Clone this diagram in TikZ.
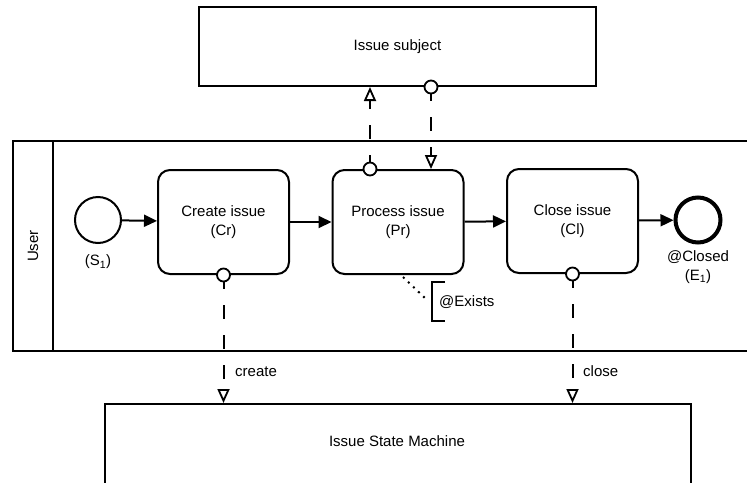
\documentclass[tikz,border=0pt]{standalone}
\usepackage{fontspec}
\setmainfont{Liberation Sans}
\usetikzlibrary{arrows.meta,calc}

\tikzset{
  lbl/.style={font=\fontsize{15}{19}\selectfont, align=center, inner sep=0pt},
  box/.style={draw, line width=2pt, minimum width=397pt, minimum height=79pt, lbl},
  task/.style={draw, line width=2pt, rounded corners=12pt, minimum width=131pt, minimum height=104pt, lbl},
  startev/.style={draw, circle, line width=2pt, minimum size=46pt, inner sep=0pt},
  endev/.style={draw, circle, line width=4pt, minimum size=45pt, inner sep=0pt},
  seq/.style={line width=2pt, -{Triangle[length=13pt,width=12pt]}},
  msg/.style={line width=2pt, dash pattern=on 14pt off 16pt, -{Triangle[open,length=14pt,width=12pt,line width=1.8pt]}},
  port/.style={draw, circle, fill=white, line width=1.8pt, minimum size=13pt, inner sep=0pt},
}

\begin{document}
\begin{tikzpicture}[x=1pt, y=-1pt]
\useasboundingbox (0,0) rectangle (747,482);
\clip (0,0) rectangle (747,482);

% pool with the single "User" lane
\draw[line width=2pt] (760,141) -- (13,141) -- (13,351) -- (760,351);
\draw[line width=2pt] (53,141) -- (53,351);
\node[lbl, rotate=90] (lane) at (33,246) {User};

% external participants
\node[box] (is) at (397.5,46.5) {Issue subject};
\node[box, minimum width=586pt, minimum height=140pt, anchor=north west] (ism) at (104,403) {};
\node[lbl] (ismtext) at (397,441) {Issue State Machine};

% events and tasks
\node[startev] (s1) at (98,220) {};
\node[lbl] (s1l) at (98,262) {(S\textsubscript{1})};
\node[task] (cr) at (223.5,222) {Create issue\\(Cr)};
\node[task] (pr) at (398,222) {Process issue\\(Pr)};
\node[task] (cl) at (572.5,221) {Close issue\\(Cl)};
\node[endev] (e1) at (698,220) {};
\node[lbl, anchor=north] (e1l) at (698,250) {@Closed\\(E\textsubscript{1})};

% sequence flows
\draw[seq] (s1) -- (cr);
\draw[seq] (cr) -- (pr);
\draw[seq] (pr) -- (cl);
\draw[seq] (cl) -- (e1);

% message flows
\coordinate (pup) at ($(pr.north)+(-28,0)$);
\coordinate (isdn) at ($(is.south)+(33.5,0)$);
\draw[msg] (pup) -- (pup |- is.south);
\draw[msg] (isdn) -- (isdn |- pr.north);
\draw[msg] (cr.south) -- (cr.south |- ism.north);
\draw[msg] (cl.south) -- (cl.south |- ism.north);
\node[port] (pport) at (pup) {};
\node[port] (isport) at (isdn) {};
\node[port] (crport) at (cr.south) {};
\node[port] (clport) at (cl.south) {};
\node[lbl, anchor=west] (crl) at (235,372) {create};
\node[lbl, anchor=west] (cll) at (583,371) {close};

% annotation
\coordinate (anc) at (403,277);
\coordinate (ant) at (427,300);
\draw[line width=2pt, dash pattern=on 2pt off 5pt] (anc) -- (ant);
\draw[line width=2pt] (445,282) -- (432,282) -- (432,321) -- (445,321);
\node[lbl, anchor=west] (ex) at (439,302) {@Exists};
\end{tikzpicture}
\end{document}
